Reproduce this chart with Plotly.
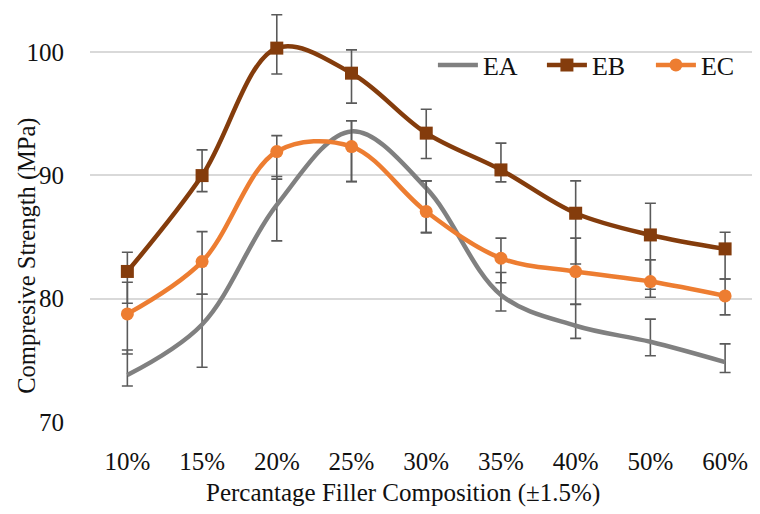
import plotly.graph_objects as go

# Filler composition categories
compositions = ["10%", "15%", "20%", "25%", "30%", "35%", "40%", "50%", "60%"]

# Mean compressive strength (MPa)
ea_strength = [73.8, 77.9, 87.6, 93.55, 88.95, 80.3, 77.8, 76.5, 74.85]
eb_strength = [82.2, 89.97, 100.3, 98.27, 93.41, 90.43, 86.92, 85.16, 84.03]
ec_strength = [78.76, 83.0, 91.92, 92.32, 87.05, 83.27, 82.19, 81.38, 80.22]

# Error bar extents (plus / minus) in MPa
ea_err_plus = [2.04, 2.45, 2.29, 0.87, 0.59, 1.82, 1.73, 1.84, 1.48]
ea_err_minus = [0.88, 3.46, 2.92, 4.06, 3.6, 1.3, 1.02, 1.13, 0.84]
eb_err_plus = [1.56, 2.08, 2.7, 1.89, 1.94, 2.17, 2.62, 2.57, 1.35]
eb_err_minus = [2.58, 1.3, 2.1, 2.43, 2.06, 0.97, 4.11, 4.4, 2.44]
ec_err_plus = [2.57, 2.43, 1.29, 2.09, 2.49, 1.63, 2.71, 1.76, 1.37]
ec_err_minus = [3.25, 2.65, 2.24, 2.84, 1.7, 1.98, 2.65, 1.27, 1.54]

y_ticks = [70, 80, 90, 100]

FONT = "Liberation Serif"
ERR_COLOR = "#5a5a5a"

def err(plus, minus):
    return dict(type="data", symmetric=False, array=plus, arrayminus=minus,
                color=ERR_COLOR, thickness=1.6, width=5.5)

fig = go.Figure()
fig.add_trace(go.Scatter(
    x=compositions, y=ea_strength, name="EA", mode="lines",
    line=dict(color="#808080", width=4.5, shape="spline", smoothing=1),
    error_y=err(ea_err_plus, ea_err_minus)))
fig.add_trace(go.Scatter(
    x=compositions, y=eb_strength, name="EB", mode="lines+markers",
    line=dict(color="#843C0C", width=4.5, shape="spline", smoothing=1),
    marker=dict(symbol="square", size=13, color="#843C0C"),
    error_y=err(eb_err_plus, eb_err_minus)))
fig.add_trace(go.Scatter(
    x=compositions, y=ec_strength, name="EC", mode="lines+markers",
    line=dict(color="#ED7D31", width=4.5, shape="spline", smoothing=1),
    marker=dict(symbol="circle", size=13, color="#ED7D31"),
    error_y=err(ec_err_plus, ec_err_minus)))

fig.update_layout(
    width=760, height=514,
    margin=dict(l=90, r=0, t=0, b=92),
    paper_bgcolor="white", plot_bgcolor="white",
    font=dict(family=FONT, size=25, color="#111111"),
    showlegend=True,
    legend=dict(orientation="h", x=0.518, y=0.846, xanchor="left", yanchor="middle",
                bgcolor="rgba(0,0,0,0)", font=dict(size=26, color="#111111"),
                entrywidth=54, entrywidthmode="pixels", itemwidth=40),
    xaxis=dict(type="category", range=[-0.5, 8.36], showgrid=False, zeroline=False,
               showline=False, ticks="", ticklabelstandoff=22,
               tickfont=dict(size=25)),
    yaxis=dict(range=[70, 104.2], tickvals=y_ticks, showgrid=True,
               gridcolor="#D9D9D9", gridwidth=1.5, zeroline=False, showline=False,
               ticks="", ticklabelstandoff=25, tickfont=dict(size=25)),
    annotations=[
        dict(text="Percantage Filler Composition (±1.5%)", xref="paper", yref="paper",
             x=(407 - 90) / 670, y=1 - 493 / 422, xanchor="center", yanchor="middle",
             showarrow=False, font=dict(size=25)),
        dict(text="Compresive Strength (MPa)", xref="paper", yref="paper",
             x=(26 - 90) / 670, y=1 - 256 / 422, xanchor="center", yanchor="middle",
             textangle=-90, showarrow=False, font=dict(size=24.5)),
    ],
)

fig.write_html("out.html")
